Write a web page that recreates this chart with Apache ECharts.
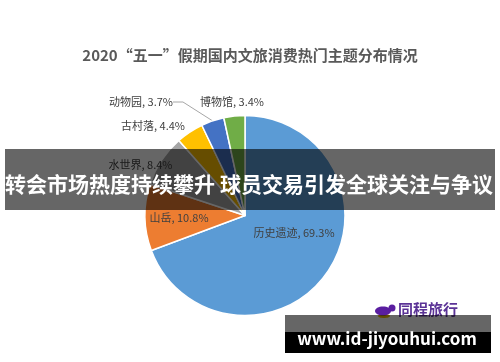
<!DOCTYPE html>
<html><head><meta charset="utf-8">
<script src="https://cdn.jsdelivr.net/npm/echarts@6/dist/echarts.min.js"></script>
<style>html,body{margin:0;padding:0;background:#fff}#c{width:500px;height:362px}</style>
</head><body><div id="c"></div>
<script>
var titleText = '2020“五一”假期国内文旅消费热门主题分布情况';
var categories = ['历史遗迹', '山岳', '水世界', '古村落', '动物园', '博物馆'];
var values = [69.3, 10.8, 8.4, 4.4, 3.7, 3.4];
var colors = ['#5B9BD5', '#ED7D31', '#A5A5A5', '#FFC000', '#4472C4', '#70AD47'];
var bannerText = '转会市场热度持续攀升 球员交易引发全球关注与争议';
var siteText = 'www.id-jiyouhui.com';
var logoText = '同程旅行';

// label anchor placement (styling, not data)
var labelPlace = [[294, 233], [179, 218], [140.5, 165], [153, 126], [141, 102], [232, 102]];

var font = '"Noto Sans CJK SC", "Noto Sans", sans-serif';
var chart = echarts.init(document.getElementById('c'), null, {renderer: 'canvas'});
var data = categories.map(function (n, i) {
  return {
    name: n, value: values[i],
    itemStyle: {color: colors[i]},
    label: {position: i < 2 ? 'inside' : 'outside'},
    labelLine: {show: n === '动物园'}
  };
});
chart.setOption({
  animation: false,
  title: {
    text: titleText, left: 'center', top: 43,
    textStyle: {fontFamily: font, fontSize: 15, fontWeight: 'bold', color: '#595959'}
  },
  series: [{
    type: 'pie',
    center: [245, 215.5],
    radius: [0, 100],
    startAngle: 90,
    clockwise: true,
    avoidLabelOverlap: false,
    data: data,
    itemStyle: {borderColor: '#fff', borderWidth: 1.5},
    label: {
      formatter: function (p) { return p.name + ', ' + p.value.toFixed(1) + '%'; },
      fontFamily: font, fontSize: 11, color: '#404040'
    },
    labelLine: {length: 10, length2: 10, lineStyle: {color: '#A6A6A6', width: 1}},
    labelLayout: function (p) {
      var pos = labelPlace[p.dataIndex];
      return {x: pos[0], y: pos[1], align: 'center', verticalAlign: 'middle', hideOverlap: false};
    }
  }],
  graphic: [
    {type: 'rect', shape: {x: 5, y: 149, width: 490, height: 61}, style: {fill: 'rgba(0,0,0,0.6)'}, z: 100},
    {type: 'text', x: 249, y: 184, style: {text: bannerText, fill: '#fff', font: 'bold 21px ' + font, textAlign: 'center', textVerticalAlign: 'middle'}, z: 101},
    {type: 'ellipse', shape: {cx: 383, cy: 311, rx: 8, ry: 4.5}, style: {fill: '#5a1ea0'}, z: 90},
    {type: 'circle', shape: {cx: 392, cy: 308, r: 3.5}, style: {fill: '#5a1ea0'}, z: 90},
    {type: 'ellipse', shape: {cx: 384, cy: 316, rx: 6, ry: 2}, style: {fill: '#f0c000'}, z: 89},
    {type: 'text', x: 428, y: 309, style: {text: logoText, fill: '#5b3396', font: 'bold 15px ' + font, textAlign: 'center', textVerticalAlign: 'middle'}, z: 90},
    {type: 'rect', shape: {x: 285, y: 315, width: 206, height: 17}, style: {fill: 'rgba(0,0,0,0.6)'}, z: 100},
    {type: 'rect', shape: {x: 285, y: 332, width: 206, height: 21}, style: {fill: '#000'}, z: 100},
    {type: 'text', x: 387, y: 339, style: {text: siteText, fill: '#fff', font: 'bold 17px ' + font, textAlign: 'center', textVerticalAlign: 'middle'}, z: 101}
  ]
});
</script></body></html>
